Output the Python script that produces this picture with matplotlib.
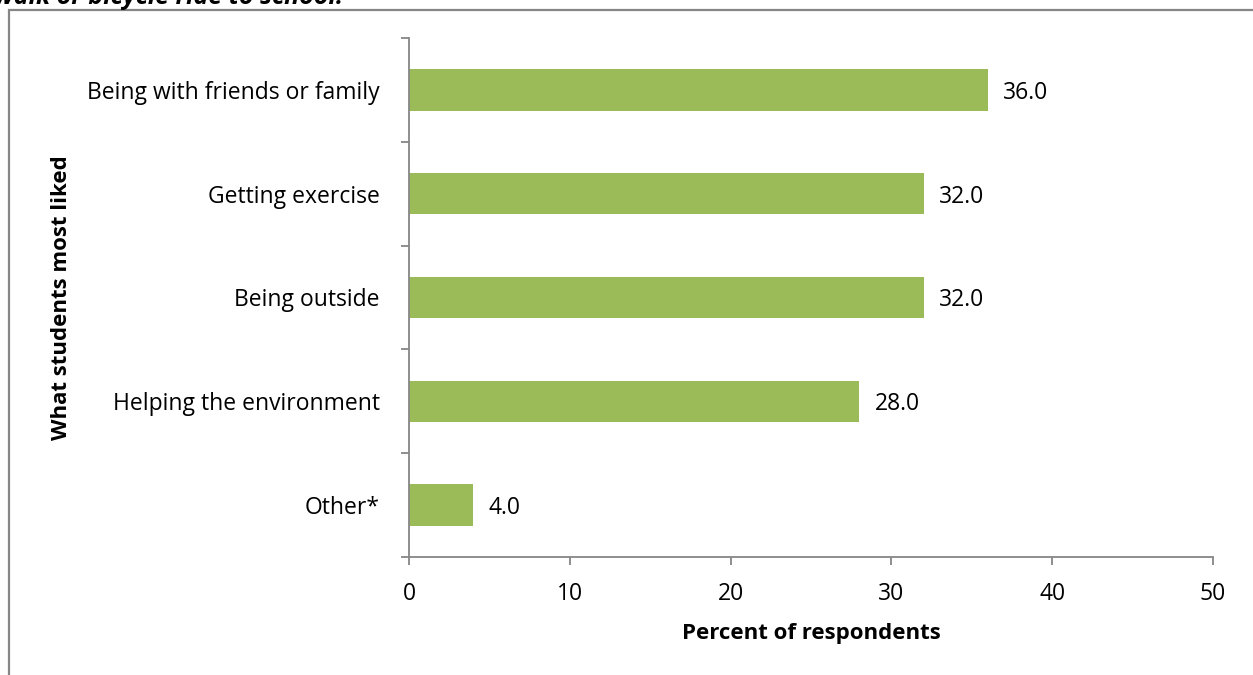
import matplotlib.pyplot as plt
from matplotlib.patches import Rectangle

plt.rcParams['font.family'] = ['Open Sans', 'DejaVu Sans']

# survey results: what students liked about walking/biking to school
categories = ['Being with friends or family', 'Getting exercise', 'Being outside',
              'Helping the environment', 'Other*']
percent = [36.0, 32.0, 32.0, 28.0, 4.0]

W, H = 1253, 675
FS = 16.5
fig = plt.figure(figsize=(W / 100, H / 100), dpi=100)

# frame around the chart object (runs off the page on the right and bottom)
fig.patches.append(Rectangle((9 / W, -0.1), 1.2, 1.1 - 9.5 / H, transform=fig.transFigure,
                             fill=False, edgecolor='#868686', linewidth=1.6))
fig.text(-0.005, 1 - 4 / H, 'walk or bicycle ride to school.', fontsize=18,
         fontweight='bold', style='italic', va='baseline', ha='left')

ax = fig.add_axes([409 / W, 1 - 557 / H, 804 / W, 519 / H])
ypos = list(range(len(categories)))[::-1]
ax.barh(ypos, percent, height=0.4, color='#9BBB59')
for y, v in zip(ypos, percent):
    ax.text(v + 0.95, y, f'{v:.1f}', va='center_baseline', ha='left', fontsize=FS)

ax.set_xlim(0, 50)
ax.set_ylim(-0.5, len(categories) - 0.5)
ax.set_xticks(range(0, 51, 10))
ax.set_yticks(ypos)
ax.set_yticklabels(categories)
ax.set_yticks([y - 0.5 for y in range(len(categories) + 1)], minor=True)

for s in ['top', 'right']:
    ax.spines[s].set_visible(False)
for s in ['left', 'bottom']:
    ax.spines[s].set_color('#868686')
    ax.spines[s].set_linewidth(1.3)

ax.tick_params(axis='y', which='major', length=0, pad=21, labelsize=FS)
ax.tick_params(axis='y', which='minor', length=6, color='#868686', width=1.3)
ax.tick_params(axis='x', length=6, color='#868686', width=1.3, labelsize=FS, pad=12)

ax.set_xlabel('Percent of respondents', fontsize=16, fontweight='bold', va='center')
ax.set_ylabel('What students most liked', fontsize=16, fontweight='bold', va='center')
ax.xaxis.set_label_coords(0.5, (557 - 634) / 519)
ax.yaxis.set_label_coords((62 - 409) / 804, 0.5)

fig.savefig('out.png', dpi=100)
